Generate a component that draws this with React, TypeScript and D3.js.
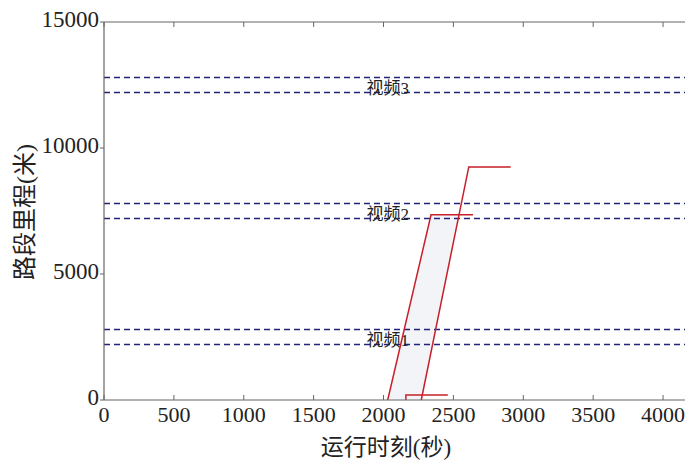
import React, { useEffect, useRef } from 'react';
import { select, scaleLinear, line } from 'd3';

const xTicks = [0, 500, 1000, 1500, 2000, 2500, 3000, 3500, 4000];
const yTicks = [0, 5000, 10000, 15000];
const videoNames = ['视频1', '视频2', '视频3'];
const videoLow = [2200, 7200, 12200];
const videoHigh = [2800, 7800, 12800];
const trainA = [[2030, 0], [2340, 7350], [2640, 7350]];
const trainB = [[2270, 0], [2610, 9250], [2910, 9250]];
const trainC = [[2160, 0], [2160, 200], [2460, 200]];

const W = 685;
const H = 462;
const serif = '"Liberation Serif", "DejaVu Serif", "Noto Sans CJK SC", serif';

const App = () => {
    const svgRef = useRef(null);

    useEffect(() => {
        const svg = select(svgRef.current);
        svg.selectAll('*').remove();

        const x = scaleLinear().domain([0, 4200]).range([104, 691]);
        const y = scaleLinear().domain([0, 15000]).range([400, 22]);

        // light band between the two trains, up to the top of train A
        const top = trainA[1][1];
        const bAt = trainB[0][0] + (trainB[1][0] - trainB[0][0]) * top / trainB[1][1];
        const band = [trainA[0], trainA[1], [bAt, top], trainB[0]];
        svg.append('path')
            .attr('d', line()(band.map(d => [x(d[0]), y(d[1])])) + 'Z')
            .attr('fill', '#f3f4f7');

        // video zones
        videoNames.forEach((name, i) => {
            [videoLow[i], videoHigh[i]].forEach(v => {
                svg.append('line')
                    .attr('x1', x(0)).attr('x2', W)
                    .attr('y1', y(v)).attr('y2', y(v))
                    .attr('stroke', '#22227a')
                    .attr('stroke-width', 1.4)
                    .attr('stroke-dasharray', '6,4');
            });
            svg.append('text')
                .attr('x', x(2030))
                .attr('y', y(videoLow[i]) + 1)
                .attr('text-anchor', 'middle')
                .attr('font-family', serif)
                .attr('font-size', 17)
                .attr('fill', '#222')
                .text(name);
        });

        const path = line().x(d => x(d[0])).y(d => y(d[1]));
        [trainA, trainB, trainC].forEach(t => {
            svg.append('path')
                .attr('d', path(t))
                .attr('fill', 'none')
                .attr('stroke', '#c8202a')
                .attr('stroke-width', 1.5);
        });

        // axes frame
        const axisColor = '#666';
        svg.append('line').attr('x1', x(0)).attr('x2', W).attr('y1', y(0)).attr('y2', y(0))
            .attr('stroke', axisColor).attr('stroke-width', 1.2);
        svg.append('line').attr('x1', x(0)).attr('x2', W).attr('y1', y(15000)).attr('y2', y(15000))
            .attr('stroke', axisColor).attr('stroke-width', 1.2);
        svg.append('line').attr('x1', x(0)).attr('x2', x(0)).attr('y1', y(0)).attr('y2', y(15000))
            .attr('stroke', axisColor).attr('stroke-width', 1.2);

        xTicks.forEach(t => {
            svg.append('line').attr('x1', x(t)).attr('x2', x(t)).attr('y1', y(0)).attr('y2', y(0) - 5)
                .attr('stroke', axisColor);
            svg.append('line').attr('x1', x(t)).attr('x2', x(t)).attr('y1', y(15000)).attr('y2', y(15000) + 5)
                .attr('stroke', axisColor);
            svg.append('text')
                .attr('x', x(t)).attr('y', y(0) + 22)
                .attr('text-anchor', 'middle')
                .attr('font-family', serif).attr('font-size', 22).attr('fill', '#222')
                .text(t);
        });

        yTicks.forEach(t => {
            svg.append('line').attr('x1', x(0) - 4).attr('x2', x(0)).attr('y1', y(t)).attr('y2', y(t))
                .attr('stroke', axisColor);
            svg.append('text')
                .attr('x', x(0) - 5).attr('y', y(t) + 5)
                .attr('text-anchor', 'end')
                .attr('font-family', serif).attr('font-size', 23).attr('fill', '#222')
                .text(t);
        });

        svg.append('text')
            .attr('x', 386).attr('y', 455)
            .attr('text-anchor', 'middle')
            .attr('font-family', serif).attr('font-size', 23).attr('fill', '#222')
            .text('运行时刻(秒)');

        svg.append('text')
            .attr('transform', 'translate(33,212) rotate(-90)')
            .attr('text-anchor', 'middle')
            .attr('font-family', serif).attr('font-size', 24).attr('fill', '#222')
            .text('路段里程(米)');
    }, []);

    return (
        <svg ref={svgRef} width={W} height={H}
            style={{ position: 'absolute', left: 0, top: 0, background: '#fff' }} />
    );
};

export default App;
